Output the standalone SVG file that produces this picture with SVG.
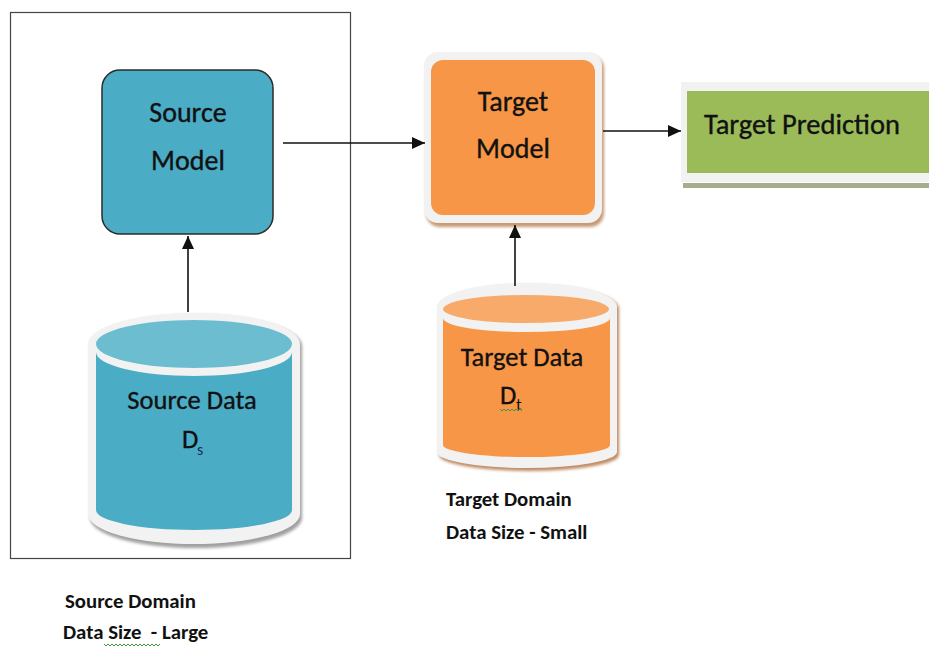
<svg xmlns="http://www.w3.org/2000/svg" width="929" height="646" viewBox="0 0 929 646">
  <style>
    .node-text { font-family: Carlito, "Liberation Sans", Arial, sans-serif; font-size: 28px; fill: #111; stroke: #111; stroke-width: 0.35; text-anchor: middle; }
    .data-text { font-family: Carlito, "Liberation Sans", Arial, sans-serif; font-size: 26.5px; fill: #111; stroke: #111; stroke-width: 0.35; }
    .label { font-family: Carlito, "Liberation Sans", Arial, sans-serif; font-size: 20.8px; font-weight: bold; fill: #111; }
    .conn { stroke: #111; stroke-width: 1.6; fill: none; marker-end: url(#arrow); }
    .frame { fill: #F2F2F2; }
    .squiggle { stroke: #3C9A3C; stroke-width: 1; fill: none; }
  </style>
  <defs>
    <marker id="arrow" markerUnits="userSpaceOnUse" markerWidth="14" markerHeight="12" refX="13" refY="6" orient="auto">
      <path d="M0,0 L13,6 L0,12 Z" fill="#111"/>
    </marker>
    <filter id="soft" x="-10%" y="-10%" width="120%" height="130%">
      <feGaussianBlur stdDeviation="1.5"/>
    </filter>
  </defs>

  <rect width="929" height="646" fill="#FFFFFF"/>

  <!-- source domain boundary -->
  <rect id="source-domain" x="10.5" y="12.5" width="340" height="546" fill="none" stroke="#444" stroke-width="1.2"/>

  <!-- Source Model -->
  <g id="source-model">
    <rect x="102" y="70" width="171" height="164" rx="18" fill="#4BACC6" stroke="#2B2B2B" stroke-width="1.5"/>
    <text class="node-text" x="188" y="122">Source</text>
    <text class="node-text" x="188" y="170">Model</text>
  </g>

  <!-- Source Data -->
  <g id="source-data">
    <path d="M90,346 A106,31 0 0 1 302,346 L302,518 A106,30 0 0 1 90,518 Z" fill="#A0A0A0" filter="url(#soft)"/>
    <path class="frame" d="M88,344 A106,31 0 0 1 300,344 L300,514 A106,30 0 0 1 88,514 Z"/>
    <path d="M96,352 A98,24 0 0 0 292,352 L292,510 A98,20 0 0 1 96,510 Z" fill="#4BACC6"/>
    <ellipse cx="194" cy="344" rx="98" ry="24" fill="#6DBDD1"/>
    <text class="data-text" x="192" y="409" text-anchor="middle">Source Data</text>
    <text class="data-text" x="182" y="448">D</text>
    <text x="197" y="455" font-family="Carlito, 'Liberation Sans', Arial, sans-serif" font-size="16" fill="#1B2A5A">s</text>
  </g>

  <!-- Target Model -->
  <g id="target-model">
    <rect x="426" y="55" width="178" height="172" rx="14" fill="#C89A74" filter="url(#soft)"/>
    <rect class="frame" x="424" y="52" width="178" height="171" rx="14"/>
    <rect x="431" y="60" width="164" height="155" rx="12" fill="#F79646"/>
    <text class="node-text" x="513" y="111">Target</text>
    <text class="node-text" x="513" y="158">Model</text>
  </g>

  <!-- Target Data -->
  <g id="target-data">
    <path d="M439,309 A90,24 0 0 1 619,309 L619,455 A90,16 0 0 1 439,455 Z" fill="#C08A63" filter="url(#soft)"/>
    <path class="frame" d="M437,307 A90,24 0 0 1 617,307 L617,452 A90,16 0 0 1 437,452 Z"/>
    <path d="M443,318 A83,14 0 0 0 610,318 L610,445 A83,12 0 0 1 443,445 Z" fill="#F79646"/>
    <ellipse cx="526" cy="309" rx="83" ry="14" fill="#F8AA6A"/>
    <text class="data-text" x="522" y="366" text-anchor="middle">Target Data</text>
    <text class="data-text" x="500" y="404">D</text>
    <text x="516" y="410" font-family="Carlito, 'Liberation Sans', Arial, sans-serif" font-size="17" fill="#111">t</text>
    <polyline class="squiggle" points="500,409 502,411 504,409 506,411 508,409 510,411 512,409 514,411 516,409 518,411 520,409 522,411"/>
  </g>

  <!-- Target Prediction -->
  <g id="target-prediction">
    <rect x="683" y="183" width="246" height="5" fill="#A4AE8D"/>
    <rect class="frame" x="681" y="82" width="248" height="100"/>
    <rect x="687" y="91" width="242" height="82" fill="#9BBB59"/>
    <text x="704" y="134" font-family="Carlito, 'Liberation Sans', Arial, sans-serif" font-size="28.5" fill="#111" stroke="#111" stroke-width="0.35">Target Prediction</text>
  </g>

  <!-- connectors -->
  <g id="connectors">
    <line class="conn" x1="188" y1="312" x2="188" y2="236"/>
    <line class="conn" x1="283" y1="143" x2="425" y2="143"/>
    <line class="conn" x1="515" y1="286" x2="515" y2="225"/>
    <line class="conn" x1="603" y1="131" x2="681" y2="131"/>
  </g>

  <!-- domain captions -->
  <g id="source-caption">
    <text class="label" x="65" y="608">Source Domain</text>
    <text class="label" x="63" y="639" xml:space="preserve">Data Size  - Large</text>
    <polyline class="squiggle" points="104,644 106,646 108,644 110,646 112,644 114,646 116,644 118,646 120,644 122,646 124,644 126,646 128,644 130,646 132,644 134,646 136,644 138,646 140,644 142,646 144,644 146,646 148,644 150,646 152,644 154,646 156,644 158,646 160,644"/>
  </g>
  <g id="target-caption">
    <text class="label" x="446" y="506">Target Domain</text>
    <text class="label" x="446" y="539">Data Size - Small</text>
  </g>
</svg>
